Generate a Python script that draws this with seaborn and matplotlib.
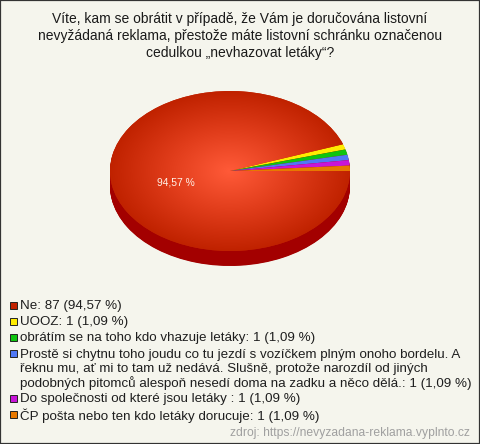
import numpy as np
import seaborn as sns
import matplotlib
matplotlib.use("Agg")
import matplotlib.pyplot as plt
from matplotlib.colors import LinearSegmentedColormap
from matplotlib.patches import Rectangle

# values
answers = [
    "Ne",
    "UOOZ",
    "obrátím se na toho kdo vhazuje letáky",
    "Prostě si chytnu toho joudu co tu jezdí s vozíčkem plným onoho bordelu. A\n"
    "řeknu mu, ať mi to tam už nedává. Slušně, protože narozdíl od jiných\n"
    "podobných pitomců alespoň nesedí doma na zadku a něco dělá.",
    "Do společnosti od které jsou letáky ",
    "ČP pošta nebo ten kdo letáky dorucuje",
]
counts = [87, 1, 1, 1, 1, 1]
percents = ["94,57", "1,09", "1,09", "1,09", "1,09", "1,09"]
colors = ["#c12200", "#ffec00", "#0fc40f", "#4f78f5", "#c815d8", "#e87800"]
title = ("Víte, kam se obrátit v případě, že Vám je doručována listovní\n"
         "nevyžádaná reklama, přestože máte listovní schránku označenou\n"
         "cedulkou „nevhazovat letáky“?")
source = "zdroj: https://nevyzadana-reklama.vyplnto.cz"

W, H = 480, 444
BG = "#f5f5ed"

sns.set_theme(style="white")
plt.rcParams["font.family"] = ["Liberation Sans", "DejaVu Sans"]
palette = sns.color_palette(colors)

fig = plt.figure(figsize=(W / 100, H / 100), dpi=100, facecolor=BG)

# pie axes: 120 px wide radius, 80 px high radius, 15 px deep
depth = 15 / 80
ax = fig.add_axes([110 / W, 1 - 266 / H, 240 / W, 175 / H])
flat = {"linewidth": 0}

# side of the pie, stacked from the bottom up
for d in np.linspace(depth, 0.0125, 30):
    ax.pie(counts, colors=["#a30000"] * len(counts), startangle=0,
           counterclock=False, center=(0, -d), radius=1, wedgeprops=flat)

wedges, _ = ax.pie(counts, colors=palette, startangle=0, counterclock=False,
                   center=(0, 0), radius=1, wedgeprops=flat)

# radial shine on the big slice
shine = LinearSegmentedColormap.from_list("shine", ["#ff5a38", "#e13d1b", "#c02200"])
xx, yy = np.meshgrid(np.linspace(-1, 1, 300), np.linspace(-1, 1, 300))
img = ax.imshow(np.clip(np.hypot(xx, yy), 0, 1), cmap=shine, extent=(-1, 1, -1, 1),
                origin="lower", aspect="auto", zorder=3)
img.set_clip_path(wedges[0])

ax.set_aspect("auto")
ax.set_xlim(-1, 1)
ax.set_ylim(-1 - depth, 1)
ax.axis("off")


def px_text(x, y, s, **kw):
    fig.text(x / W, 1 - y / H, s, va="center", **kw)


fig.text(240 / W, 1 - 36 / H, title, ha="center", va="center", fontsize=10.0,
         color="#1a1a1a", linespacing=1.24)
px_text(175.5, 182, percents[0] + " %", ha="center", fontsize=7.4, color="#fff2e8")

# legend, one swatch per answer
y = 305
for name, count, pct, col in zip(answers, counts, percents, palette):
    fig.add_artist(Rectangle((9.7 / W, 1 - (y + 3.5) / H), 7 / W, 7 / H,
                             transform=fig.transFigure, facecolor=col,
                             edgecolor="#222222", linewidth=0.7))
    lines = f"{name}: {count} ({pct} %)".split("\n")
    for i, line in enumerate(lines):
        px_text(20, y + 1 + i * 14.2, line, ha="left", fontsize=9.6, color="#1e1e1e")
    y += 16.2 + (len(lines) - 1) * 14.2

px_text(470, 433, source, ha="right", fontsize=8.7, color="#a0a0a0")

# image border
fig.add_artist(Rectangle((0, 0), 1, 1, transform=fig.transFigure, fill=False,
                         edgecolor="#333333", linewidth=1.6))

fig.savefig("out.png", dpi=100, facecolor=BG)
